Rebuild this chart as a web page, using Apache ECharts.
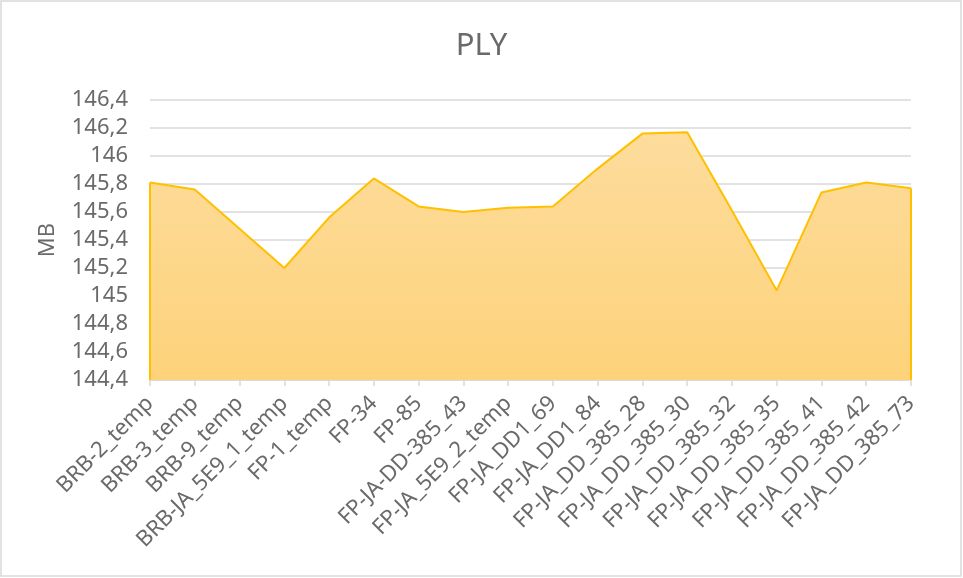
<!DOCTYPE html>
<html>
<head>
<meta charset="utf-8">
<script src="https://cdn.jsdelivr.net/npm/echarts@6/dist/echarts.min.js"></script>
<style>
html, body { margin: 0; padding: 0; background: #fff; }
#plyChart { width: 963px; height: 578px; }
</style>
</head>
<body>
<div id="plyChart"></div>
<script>

var categories = ['BRB-2_temp', 'BRB-3_temp', 'BRB-9_temp', 'BRB-JA_5E9_1_temp', 'FP-1_temp',
	'FP-34', 'FP-85', 'FP-JA-DD-385_43', 'FP-JA_5E9_2_temp', 'FP-JA_DD1_69', 'FP-JA_DD1_84',
	'FP-JA_DD_385_28', 'FP-JA_DD_385_30', 'FP-JA_DD_385_32', 'FP-JA_DD_385_35',
	'FP-JA_DD_385_41', 'FP-JA_DD_385_42', 'FP-JA_DD_385_73'];

var sizeMB = [145.81, 145.76, 145.48, 145.20, 145.56, 145.84, 145.64, 145.60, 145.63,
	145.64, 145.91, 146.16, 146.17, 145.61, 145.04, 145.74, 145.81, 145.77];

var yMin = 144.4, yMax = 146.4, yStep = 0.2;

var font = '"Noto Sans", sans-serif';
var textGrey = '#6a6a6a';

var chart = echarts.init(document.getElementById('plyChart'));

var last = categories.length - 1;

chart.setOption({
	animation: false,
	title: {
		text: 'PLY',
		left: 'center',
		top: 26,
		textStyle: { fontFamily: font, fontSize: 31, fontWeight: 'normal', color: textGrey }
	},
	graphic: [{
		type: 'rect',
		shape: { x: 1, y: 1, width: 960, height: 575 },
		style: { fill: 'none', stroke: '#d9d9d9', lineWidth: 1.5 },
		silent: true
	}],
	grid: { left: 150, right: 52, top: 100, bottom: 198 },
	xAxis: {
		type: 'category',
		data: categories,
		boundaryGap: false,
		axisLine: { lineStyle: { color: '#d9d9d9', width: 1.5 } },
		axisTick: { show: true, length: 6, lineStyle: { color: '#d9d9d9', width: 1.5 } },
		axisLabel: {
			interval: 0,
			rotate: 45,
			margin: 20,
			fontFamily: font,
			fontSize: 22,
			color: textGrey
		}
	},
	yAxis: {
		type: 'value',
		min: yMin,
		max: yMax,
		interval: yStep,
		name: 'MB',
		nameLocation: 'middle',
		nameGap: 91,
		nameTextStyle: { fontFamily: font, fontSize: 22, color: textGrey },
		axisLine: { show: false },
		axisTick: { show: false },
		splitLine: { lineStyle: { color: '#d9d9d9', width: 1.5 } },
		axisLabel: {
			margin: 22,
			fontFamily: font,
			fontSize: 22,
			color: textGrey,
			formatter: function (v) {
				return String(Math.round(v * 10) / 10).replace('.', ',');
			}
		}
	},
	series: [{
		name: 'PLY',
		type: 'line',
		data: sizeMB,
		symbol: 'none',
		lineStyle: { color: '#FFC000', width: 2 },
		areaStyle: {
			origin: 'start',
			opacity: 1,
			color: new echarts.graphic.LinearGradient(0, 0, 0, 1, [
				{ offset: 0, color: '#FDDC9C' },
				{ offset: 1, color: '#FDD27A' }
			])
		},
		markLine: {
			silent: true,
			symbol: 'none',
			label: { show: false },
			lineStyle: { color: '#FFC000', width: 2, type: 'solid' },
			data: [
				[{ coord: [0, yMin] }, { coord: [0, sizeMB[0]] }],
				[{ coord: [last, yMin] }, { coord: [last, sizeMB[last]] }]
			]
		}
	}]
});

</script>
</body>
</html>
